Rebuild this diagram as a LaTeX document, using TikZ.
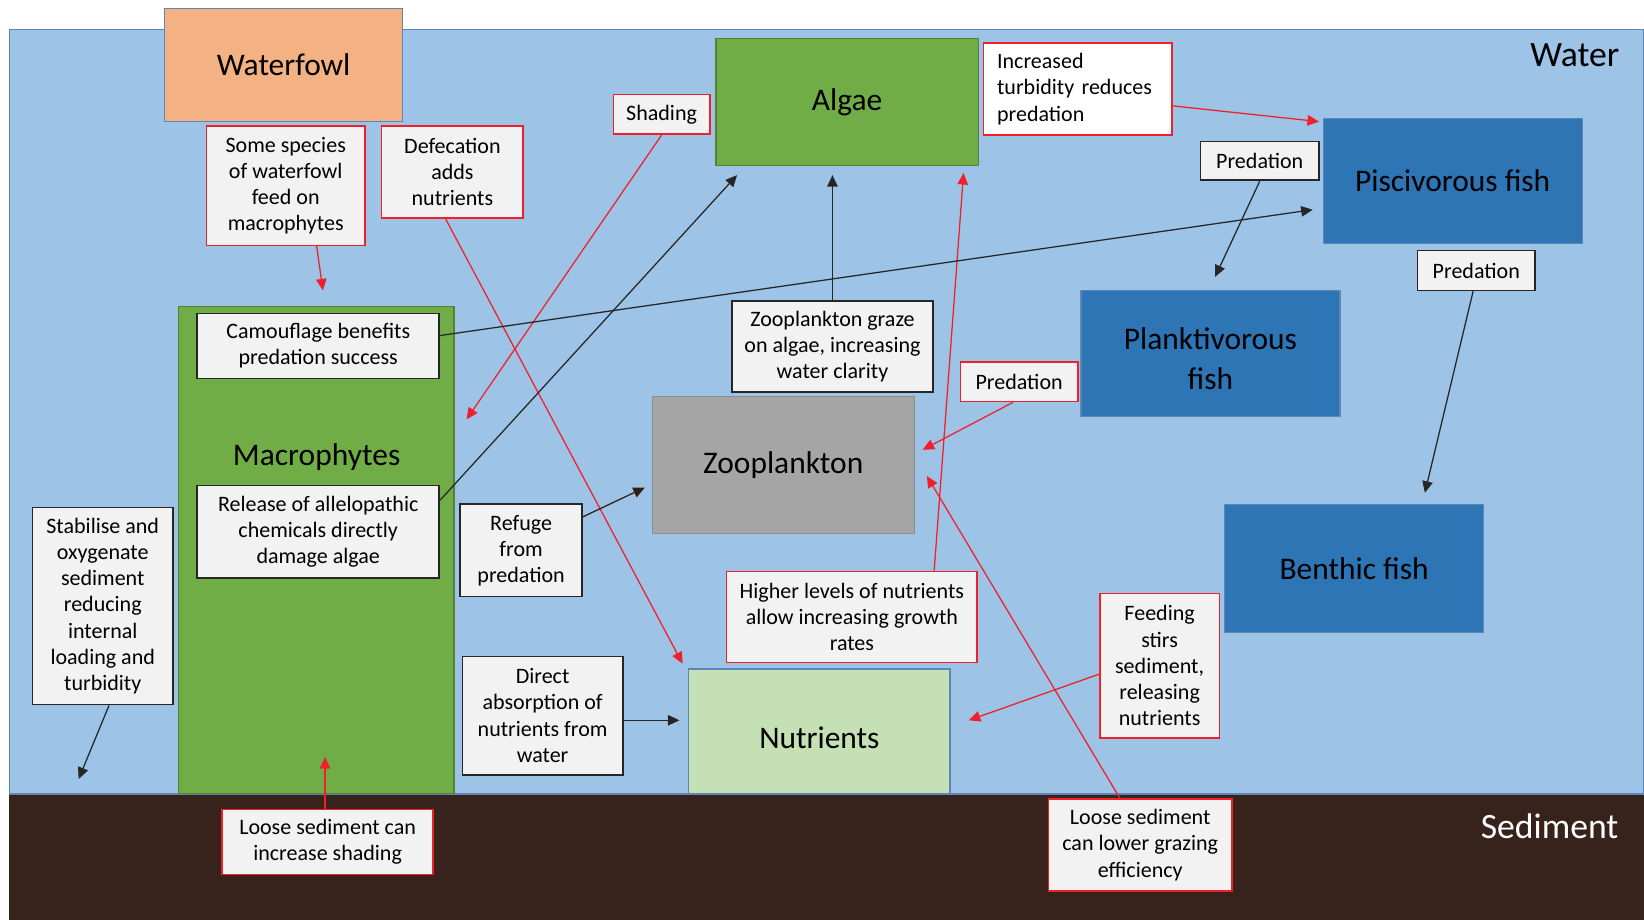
\documentclass[tikz,border=0pt]{standalone}
\usepackage{fontspec}
\setmainfont{Carlito}
\usepackage{tikz}
\usetikzlibrary{arrows.meta,calc}

\definecolor{waterblue}{HTML}{9DC3E6}
\definecolor{edgeblue}{HTML}{5B86B5}
\definecolor{sedbrown}{HTML}{38221C}
\definecolor{fowlorange}{HTML}{F4B183}
\definecolor{plantgreen}{HTML}{70AD47}
\definecolor{plantedge}{HTML}{548235}
\definecolor{fishblue}{HTML}{2E75B6}
\definecolor{zoogrey}{HTML}{A5A5A5}
\definecolor{nutrgreen}{HTML}{C5E0B4}
\definecolor{notegrey}{HTML}{F2F2F2}
\definecolor{notered}{HTML}{F0202A}

\begin{document}
\begin{tikzpicture}[
    x=0.5pt, y=-0.5pt,
    bigbox/.style={rectangle, inner sep=0pt, draw=edgeblue, line width=0.6pt,
        font=\fontsize{15}{19}\selectfont, align=center},
    bigtext/.style={font=\fontsize{15}{19}\selectfont, align=center},
    note/.style={rectangle, inner sep=0pt, fill=notegrey, line width=0.8pt,
        font=\fontsize{10.5}{12.5}\selectfont, align=center},
    rednote/.style={note, draw=notered},
    blacknote/.style={note, draw=black!85},
    redarrow/.style={draw=notered, line width=0.6pt, -{Triangle[length=5.5pt,width=5pt]}},
    blackarrow/.style={draw=black!85, line width=0.6pt, -{Triangle[length=5.5pt,width=5pt]}}
]
    \useasboundingbox (0,0) rectangle (1568,877);
    % water and sediment layers
    \fill[white] (0,0) rectangle (1568,877);
    \draw[fill=waterblue, draw=edgeblue, line width=0.8pt] (9,877) -- (9,28) -- (1568,28) -- (1568,757);
    \fill[sedbrown] (9,757) rectangle (1568,877);
    \draw[edgeblue, line width=0.8pt] (9,757) -- (1568,757);
    \node[font=\fontsize{17}{20}\selectfont] (water) at (1502,53) {Water};
    \node[font=\fontsize{17}{20}\selectfont, text=white] (sediment) at (1478,788) {Sediment};

    % main compartments
    \node[bigbox, fill=fowlorange, minimum width=113.5pt, minimum height=54pt] (fowl) at (270.5,62) {Waterfowl};
    \node[bigbox, fill=plantgreen, draw=plantedge, minimum width=125pt, minimum height=60.5pt] (algae) at (808,97.5) {Algae};
    \node[bigbox, fill=fishblue, minimum width=123.5pt, minimum height=59.5pt] (pisc) at (1385.5,172.5) {Piscivorous fish};
    \node[bigbox, fill=fishblue, minimum width=123.5pt, minimum height=60pt] (plank) at (1154.5,337) {};
    \node[bigtext] (planklabel) at ([yshift=-2.5pt]plank.center) {Planktivorous\\fish};
    \node[bigbox, fill=zoogrey, draw=black!45, minimum width=125pt, minimum height=65.5pt] (zoo) at (747,443.5) {Zooplankton};
    \node[bigbox, fill=fishblue, minimum width=123.5pt, minimum height=61pt] (benthic) at (1291.5,542) {Benthic fish};
    \node[bigbox, fill=plantgreen, draw=plantedge, minimum width=131.5pt, minimum height=232.5pt] (macro) at (301.5,524.5) {};
    \node[bigtext] (macrolabel) at (302,436) {Macrophytes};
    \node[bigbox, fill=nutrgreen, minimum width=124.5pt, minimum height=59.5pt] (nutr) at (781.5,697.5) {};
    \node[bigtext] (nutrlabel) at ([yshift=-3pt]nutr.center) {Nutrients};

    % notes
    \node[rednote, minimum width=75.5pt, minimum height=57pt] (somesp) at (272.5,177) {Some species\\of waterfowl\\feed on\\macrophytes};
    \node[rednote, minimum width=67.5pt, minimum height=44pt] (defec) at (431.5,164) {Defecation\\adds\\nutrients};
    \node[rednote, minimum width=46pt, minimum height=19pt] (shading) at (631,109) {Shading};
    \node[rednote, fill=white, minimum width=90pt, minimum height=44pt, text width=77pt, align=left] (turbid) at (1028,85) {Increased\\turbidity reduces\\predation};
    \node[blacknote, minimum width=56.5pt, minimum height=18.5pt] (predA) at (1201.5,153.5) {Predation};
    \node[blacknote, minimum width=56pt, minimum height=19pt] (predB) at (1408,258) {Predation};
    \node[rednote, minimum width=56pt, minimum height=19pt] (predC) at (972,364) {Predation};
    \node[blacknote, minimum width=96pt, minimum height=43.5pt] (graze) at (794,330.5) {Zooplankton graze\\on algae, increasing\\water clarity};
    \node[blacknote, minimum width=115.5pt, minimum height=31pt] (camo) at (303.5,330) {Camouflage benefits\\predation success};
    \node[blacknote, minimum width=115.5pt, minimum height=44pt] (release) at (303.5,507) {Release of allelopathic\\chemicals directly\\damage algae};
    \node[blacknote, minimum width=67pt, minimum height=94pt] (stab) at (98,578) {Stabilise and\\oxygenate\\sediment\\reducing\\internal\\loading and\\turbidity};
    \node[blacknote, minimum width=58pt, minimum height=44pt] (refuge) at (497,525) {Refuge\\from\\predation};
    \node[blacknote, minimum width=76.5pt, minimum height=56.5pt] (direct) at (517.5,682.5) {Direct\\absorption of\\nutrients from\\water};
    \node[rednote, minimum width=119.5pt, minimum height=43.5pt] (higher) at (812.5,588.5) {Higher levels of nutrients\\allow increasing growth\\rates};
    \node[rednote, minimum width=57pt, minimum height=69pt] (feed) at (1106,635) {Feeding\\stirs\\sediment,\\releasing\\nutrients};
    \node[rednote, minimum width=100.5pt, minimum height=31pt] (loose1) at (312.5,803) {Loose sediment can\\increase shading};
    \node[rednote, minimum width=87.5pt, minimum height=44pt] (loose2) at (1087.5,806) {Loose sediment\\can lower grazing\\efficiency};

    % free arrow ends
    \coordinate (tipSome) at (308,277);
    \coordinate (tipDefec) at (651,633);
    \coordinate (tipShade) at (445,400);
    \coordinate (tipRelease) at (703,167);
    \coordinate (tipGraze) at (794,167);
    \coordinate (tipHigher) at (919,165);
    \coordinate (tipTurbid) at (1258,116);
    \coordinate (tipCamo) at (1252,200);
    \coordinate (tipPredA) at (1159,264);
    \coordinate (tipPredB) at (1359,470);
    \coordinate (tipPredC) at (880,429);
    \coordinate (tipLoose2) at (884,454);
    \coordinate (tipFeed) at (924,687);
    \coordinate (tipRefuge) at (615,465);
    \coordinate (tipDirect) at (648,687);
    \coordinate (tipLoose1) at (310,722);
    \coordinate (tipStab) at (75,743);

    % connectors
    \draw[redarrow] ([xshift=14.75pt]somesp.south) -- (tipSome);
    \draw[redarrow] ([xshift=-3.25pt]defec.south) -- (tipDefec);
    \draw[redarrow] (shading.south) -- (tipShade);
    \draw[blackarrow] ([yshift=15pt]release.east) -- (tipRelease);
    \draw[blackarrow] (graze.north) -- (tipGraze);
    \draw[redarrow] ([xshift=39.25pt]higher.north) -- (tipHigher);
    \draw[redarrow] ([yshift=-8pt]turbid.east) -- (tipTurbid);
    \draw[blackarrow] ([yshift=5pt]camo.east) -- (tipCamo);
    \draw[blackarrow] (predA.south) -- (tipPredA);
    \draw[blackarrow] ([xshift=-1.5pt]predB.south) -- (tipPredB);
    \draw[redarrow] ([xshift=-3pt]predC.south) -- (tipPredC);
    \draw[redarrow] ([xshift=-9.75pt]loose2.north) -- (tipLoose2);
    \draw[redarrow] ([yshift=-4pt]feed.west) -- (tipFeed);
    \draw[blackarrow, draw=black!75!brown] ([yshift=16pt]refuge.east) -- (tipRefuge);
    \draw[blackarrow] ([yshift=-2.25pt]direct.east) -- (tipDirect);
    \draw[redarrow] ([xshift=-1.25pt]loose1.north) -- (tipLoose1);
    \draw[blackarrow] ([xshift=3pt]stab.south) -- (tipStab);
\end{tikzpicture}
\end{document}
